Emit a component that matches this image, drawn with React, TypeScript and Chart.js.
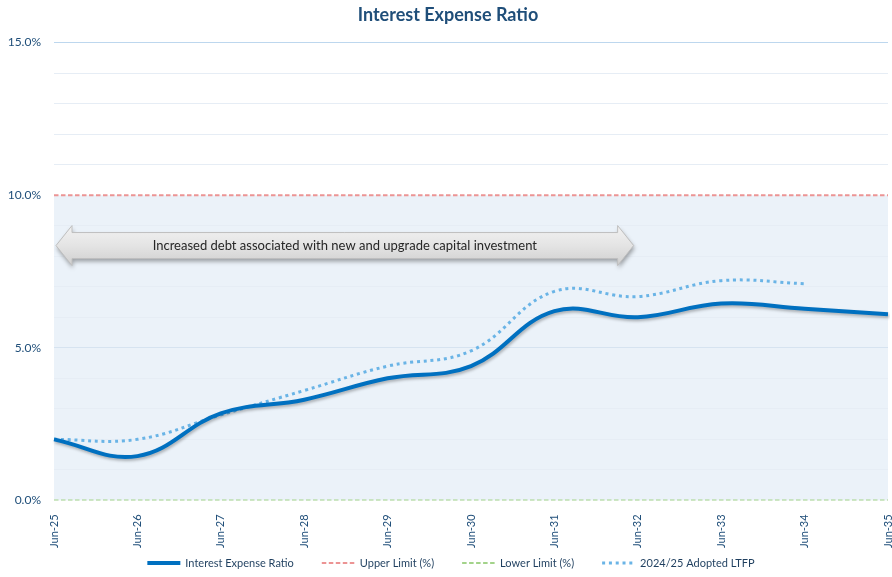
import React, { useEffect, useRef } from "react";
import { Chart, registerables } from "chart.js";

Chart.register(...registerables);

const categories = ["Jun-25", "Jun-26", "Jun-27", "Jun-28", "Jun-29", "Jun-30", "Jun-31", "Jun-32", "Jun-33", "Jun-34", "Jun-35"];
const interestExpenseRatio = [2.0, 1.45, 2.85, 3.3, 4.0, 4.4, 6.2, 6.0, 6.45, 6.28, 6.1];
const upperLimit = [10, 10, 10, 10, 10, 10, 10, 10, 10, 10, 10];
const lowerLimit = [0, 0, 0, 0, 0, 0, 0, 0, 0, 0, 0];
const adoptedLTFP = [2.0, 2.0, 2.8, 3.6, 4.4, 4.9, 6.85, 6.68, 7.2, 7.1, null];
const arrowText = "Increased debt associated with new and upgrade capital investment";
const arrowStartIndex = 0;
const arrowEndIndex = 6.95;
const arrowLevel = 8.35;

const FONT = "Lato, 'Open Sans', sans-serif";

const bandPlugin = {
  id: "band",
  beforeDraw(chart: any) {
    const { ctx, chartArea, scales } = chart;
    const y = scales.y;
    const top = y.getPixelForValue(10);
    const bottom = y.getPixelForValue(0);
    ctx.save();
    ctx.fillStyle = "#EBF2F9";
    ctx.fillRect(chartArea.left, top, chartArea.right - chartArea.left, bottom - top);
    ctx.restore();
  },
};

const shadowPlugin = {
  id: "lineShadow",
  beforeDatasetDraw(chart: any, args: any) {
    const ctx = chart.ctx;
    ctx.save();
    if (args.index === 0) {
      ctx.shadowColor = "rgba(0,0,0,0.28)";
      ctx.shadowBlur = 3;
      ctx.shadowOffsetX = 1;
      ctx.shadowOffsetY = 2;
    }
  },
  afterDatasetDraw(chart: any) {
    chart.ctx.restore();
  },
};

const arrowPlugin = {
  id: "arrow",
  afterDatasetsDraw(chart: any) {
    const { ctx, scales } = chart;
    const x0 = scales.x.getPixelForValue(arrowStartIndex) + 2;
    const x1 = scales.x.getPixelForValue(arrowEndIndex);
    const yc = scales.y.getPixelForValue(arrowLevel);
    const headW = 16;
    const headH = 20;
    const bodyH = 13;
    ctx.save();
    ctx.beginPath();
    ctx.moveTo(x0, yc);
    ctx.lineTo(x0 + headW, yc - headH);
    ctx.lineTo(x0 + headW, yc - bodyH);
    ctx.lineTo(x1 - headW, yc - bodyH);
    ctx.lineTo(x1 - headW, yc - headH);
    ctx.lineTo(x1, yc);
    ctx.lineTo(x1 - headW, yc + headH);
    ctx.lineTo(x1 - headW, yc + bodyH);
    ctx.lineTo(x0 + headW, yc + bodyH);
    ctx.lineTo(x0 + headW, yc + headH);
    ctx.closePath();
    const g = ctx.createLinearGradient(0, yc - headH, 0, yc + headH);
    g.addColorStop(0, "#F2F2F2");
    g.addColorStop(0.5, "#E4E4E4");
    g.addColorStop(1, "#CFCFCF");
    ctx.shadowColor = "rgba(0,0,0,0.35)";
    ctx.shadowBlur = 4;
    ctx.shadowOffsetX = 1;
    ctx.shadowOffsetY = 3;
    ctx.fillStyle = g;
    ctx.fill();
    ctx.shadowColor = "transparent";
    ctx.strokeStyle = "#BFBFBF";
    ctx.lineWidth = 1;
    ctx.stroke();
    ctx.fillStyle = "#262626";
    ctx.font = `13px ${FONT}`;
    ctx.textAlign = "center";
    ctx.textBaseline = "middle";
    ctx.fillText(arrowText, (x0 + x1) / 2, yc);
    ctx.restore();
  },
};

const legendPlugin = {
  id: "customLegend",
  afterDraw(chart: any) {
    const { ctx } = chart;
    const sample = 33;
    const gapText = 5;
    const gapItem = 28;
    ctx.save();
    ctx.font = `11px ${FONT}`;
    const items = chart.data.datasets.map((ds: any) => ({
      ds,
      w: sample + gapText + ctx.measureText(ds.label).width,
    }));
    const total = items.reduce((s: number, it: any) => s + it.w, 0) + gapItem * (items.length - 1);
    let x = chart.width / 2 + 5 - total / 2;
    const y = chart.height - 14;
    items.forEach((it: any) => {
      const ds = it.ds;
      ctx.beginPath();
      ctx.setLineDash(ds.borderDash || []);
      ctx.lineWidth = ds.borderWidth;
      ctx.strokeStyle = ds.borderColor;
      ctx.lineCap = "butt";
      ctx.moveTo(x, y);
      ctx.lineTo(x + sample, y);
      ctx.stroke();
      ctx.setLineDash([]);
      ctx.fillStyle = "#1F3F5F";
      ctx.textAlign = "left";
      ctx.textBaseline = "middle";
      ctx.fillText(ds.label, x + sample + gapText, y);
      x += it.w + gapItem;
    });
    ctx.restore();
  },
};

export default function App() {
  const canvasRef = useRef<HTMLCanvasElement | null>(null);

  useEffect(() => {
    if (!canvasRef.current) return;
    Chart.defaults.font.family = FONT;
    const chart = new Chart(canvasRef.current, {
      type: "line",
      data: {
        labels: categories,
        datasets: [
          {
            label: "Interest Expense Ratio",
            data: interestExpenseRatio,
            borderColor: "#0070C0",
            backgroundColor: "#0070C0",
            borderWidth: 4,
            tension: 0.4,
            pointRadius: 0,
          },
          {
            label: "Upper Limit (%)",
            data: upperLimit,
            borderColor: "#EC9494",
            backgroundColor: "#EC9494",
            borderWidth: 2,
            borderDash: [4.5, 2.5],
            pointRadius: 0,
          },
          {
            label: "Lower Limit (%)",
            data: lowerLimit,
            borderColor: "#A3D38A",
            backgroundColor: "#A3D38A",
            borderWidth: 2,
            borderDash: [4.5, 2.5],
            pointRadius: 0,
          },
          {
            label: "2024/25 Adopted LTFP",
            data: adoptedLTFP,
            borderColor: "#6AB4E6",
            backgroundColor: "#6AB4E6",
            borderWidth: 3,
            borderDash: [3, 3.8],
            tension: 0.4,
            pointRadius: 0,
          },
        ],
      },
      options: {
        responsive: false,
        animation: false,
        layout: { padding: { left: 8, right: 4, top: 0, bottom: 23 } },
        plugins: {
          title: {
            display: true,
            text: "Interest Expense Ratio",
            color: "#1F4E79",
            font: { size: 18, weight: "bold", family: FONT },
            padding: { top: 4, bottom: 17 },
          },
          legend: { display: false },
          tooltip: { enabled: false },
        },
        scales: {
          x: {
            offset: false,
            grid: { display: false },
            border: { display: false },
            afterFit: (scale: any) => {
              scale.paddingLeft = 0;
              scale.paddingRight = 0;
            },
            ticks: {
              color: "#1F4E79",
              font: { size: 11, family: FONT },
              minRotation: 90,
              maxRotation: 90,
              autoSkip: false,
              padding: 6,
            },
          },
          y: {
            min: 0,
            max: 15,
            border: { display: false },
            afterFit: (scale: any) => {
              scale.width = 46;
            },
            grid: {
              color: (ctx: any) => {
                const v = ctx.tick?.value;
                if (v === 15) return "#BDD7EE";
                if (v === 0 || v === 10) return "rgba(0,0,0,0)";
                if (v === 5) return "#D6E3F0";
                return "#E6EDF5";
              },
              drawTicks: false,
            },
            ticks: {
              stepSize: 1,
              color: "#1F4E79",
              font: { size: 12, family: FONT },
              padding: 13,
              callback: (v: any) => (Number(v) % 5 === 0 ? Number(v).toFixed(1) + "%" : ""),
            },
          },
        },
      },
      plugins: [bandPlugin, shadowPlugin, arrowPlugin, legendPlugin],
    });
    return () => chart.destroy();
  }, []);

  return (
    <div style={{ position: "fixed", left: 0, top: 0, width: 892, height: 577, background: "#fff" }}>
      <canvas ref={canvasRef} width={892} height={577} />
    </div>
  );
}
